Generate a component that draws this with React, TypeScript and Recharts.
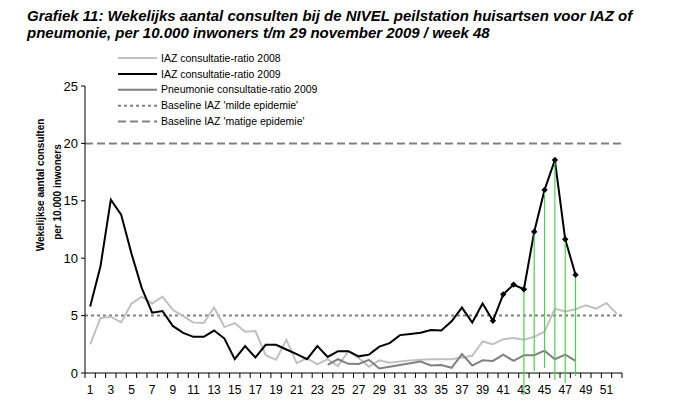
// App.tsx
// Weekly IAZ / pneumonia consultations per 10.000 inhabitants (NIVEL), 2008 vs 2009.
import { LineChart, Line, XAxis, YAxis, ReferenceLine } from "recharts";

const WEEKS = [
  1, 2, 3, 4, 5, 6, 7, 8, 9, 10, 11, 12, 13, 14, 15, 16, 17, 18, 19, 20, 21, 22, 23, 24, 25, 26,
  27, 28, 29, 30, 31, 32, 33, 34, 35, 36, 37, 38, 39, 40, 41, 42, 43, 44, 45, 46, 47, 48, 49, 50, 51, 52,
];

// IAZ consultatie-ratio 2008 (week 1-52)
const IAZ_2008 = [
  2.5, 4.8, 4.9, 4.4, 6.05, 6.65, 6.05, 6.65, 5.5, 4.95, 4.4, 4.35, 5.7, 4.0, 4.35, 3.6, 3.65,
  1.55, 1.15, 2.9, 0.85, 1.3, 0.75, 1.2, 0.6, 1.9, 1.3, 0.55, 1.1, 0.9, 1.0, 1.1, 1.15, 1.2, 1.2,
  1.2, 1.35, 1.5, 2.75, 2.5, 2.95, 3.05, 2.9, 3.15, 3.6, 5.6, 5.35, 5.55, 5.9, 5.6, 6.1, 5.15,
];

// IAZ consultatie-ratio 2009 (week 1-48)
const IAZ_2009 = [
  5.8, 9.3, 15.1, 13.8, 10.4, 7.4, 5.25, 5.4, 4.1, 3.5, 3.15, 3.15, 3.7, 3.0, 1.2, 2.35, 1.35,
  2.45, 2.45, 2.05, 1.65, 1.2, 2.35, 1.4, 1.9, 1.9, 1.45, 1.6, 2.3, 2.6, 3.3, 3.4, 3.5, 3.75, 3.7,
  4.5, 5.7, 4.4, 6.05, 4.55, 6.85, 7.7, 7.3, 12.3, 15.95, 18.55, 11.65, 8.55,
];

// Pneumonie consultatie-ratio 2009 (week 24-48)
const PNEU_START_WEEK = 24;
const PNEU_2009 = [
  0.7, 1.2, 0.8, 0.78, 1.15, 0.4, 0.55, 0.7, 0.85, 1.0, 0.65, 0.7, 0.45, 1.65, 0.65, 1.1, 1.05,
  1.6, 1.05, 1.55, 1.55, 1.95, 1.2, 1.6, 1.05,
];

const BASELINE_MILD = 5;
const BASELINE_MATIG = 20;

const Y_TICKS = [0, 5, 10, 15, 20, 25];
const X_LABELS = [1, 3, 5, 7, 9, 11, 13, 15, 17, 19, 21, 23, 25, 27, 29, 31, 33, 35, 37, 39, 41, 43, 45, 47, 49, 51];
const MARKED_WEEKS = [40, 41, 42, 43, 44, 45, 46, 47, 48];
const GREEN_WEEKS = [43, 44, 45, 46, 47, 48];

// how far (px) each green drop line runs past the x axis
const GREEN_OVERSHOOT: Record<number, number> = { 43: 22, 44: -2, 45: -5, 46: 7, 47: 10, 48: 3 };

const FONT = "'Liberation Sans', Arial, sans-serif";
const PLOT_LEFT = 85;
const PLOT_RIGHT = 622;
const PLOT_TOP = 86;
const PLOT_BOTTOM = 373;
const HALF_STEP = (PLOT_RIGHT - PLOT_LEFT) / WEEKS.length / 2;

const COLOR_2008 = "#c0c0c0";
const COLOR_2009 = "#000000";
const COLOR_PNEU = "#808080";
const COLOR_BASE = "#808080";

const rows = WEEKS.map((week, i) => ({
  week,
  y2008: IAZ_2008[i] ?? null,
  y2009: IAZ_2009[i] ?? null,
  pneu: week >= PNEU_START_WEEK ? PNEU_2009[week - PNEU_START_WEEK] ?? null : null,
}));

// tick marks sit between the weeks, labels on the odd weeks
const boundaryTicks = [0.5, ...WEEKS.map((w) => w + 0.5)];

const LEGEND = [
  { label: "IAZ consultatie-ratio 2008", color: COLOR_2008, dash: undefined },
  { label: "IAZ consultatie-ratio 2009", color: COLOR_2009, dash: undefined },
  { label: "Pneumonie consultatie-ratio 2009", color: COLOR_PNEU, dash: undefined },
  { label: "Baseline IAZ 'milde epidemie'", color: COLOR_BASE, dash: "3 3" },
  { label: "Baseline IAZ 'matige epidemie'", color: COLOR_BASE, dash: "8 4" },
];

function WeekTick(props: any) {
  const { x, y, payload } = props;
  const week = payload.value + 0.5;
  if (!X_LABELS.includes(week)) return <g />;
  return (
    <text x={x + HALF_STEP} y={y} dy={14} textAnchor="middle" fontSize={12} fill="#000" fontFamily={FONT}>
      {week}
    </text>
  );
}

function PeakDot(props: any) {
  const { cx, cy, payload } = props;
  const key = "dot-" + payload.week;
  if (!MARKED_WEEKS.includes(payload.week) || cx == null || cy == null) return <g key={key} />;
  const s = 3.2;
  return (
    <g key={key}>
      {GREEN_WEEKS.includes(payload.week) && (
        <line
          x1={cx}
          y1={cy}
          x2={cx}
          y2={PLOT_BOTTOM + GREEN_OVERSHOOT[payload.week]}
          stroke="#4cd24c"
          strokeWidth={1.2}
        />
      )}
      <path d={`M${cx},${cy - s}L${cx + s},${cy}L${cx},${cy + s}L${cx - s},${cy}Z`} fill="#000" />
    </g>
  );
}

export default function App() {
  return (
    <div style={{ position: "absolute", left: 0, top: 0, width: 700, height: 400, background: "#fff" }}>
      <LineChart
        width={700}
        height={400}
        data={rows}
        margin={{ top: PLOT_TOP, right: 700 - PLOT_RIGHT, left: 0, bottom: 0 }}
      >
        <XAxis
          dataKey="week"
          type="number"
          domain={[0.5, 52.5]}
          ticks={boundaryTicks}
          interval={0}
          height={400 - PLOT_BOTTOM}
          tickSize={5}
          axisLine={{ stroke: "#000" }}
          tickLine={{ stroke: "#000" }}
          tick={<WeekTick />}
        />
        <YAxis
          domain={[0, 25]}
          ticks={Y_TICKS}
          width={PLOT_LEFT}
          tickSize={4}
          tickMargin={3}
          axisLine={{ stroke: "#000" }}
          tickLine={{ stroke: "#000" }}
          tick={{ fontSize: 13, fill: "#000", fontFamily: FONT }}
        />
        <ReferenceLine y={BASELINE_MATIG} stroke={COLOR_BASE} strokeWidth={2} strokeDasharray="8 4" />
        <ReferenceLine y={BASELINE_MILD} stroke={COLOR_BASE} strokeWidth={2} strokeDasharray="3 3" />
        <Line dataKey="y2008" stroke={COLOR_2008} strokeWidth={2} dot={false} isAnimationActive={false} />
        <Line dataKey="pneu" stroke={COLOR_PNEU} strokeWidth={2} dot={false} isAnimationActive={false} />
        <Line
          dataKey="y2009"
          stroke={COLOR_2009}
          strokeWidth={2}
          dot={PeakDot}
          activeDot={false}
          isAnimationActive={false}
        />
      </LineChart>

      <svg
        width={700}
        height={400}
        style={{ position: "absolute", left: 0, top: 0, pointerEvents: "none" }}
        fontFamily={FONT}
      >
        <text x={27} y={21} fontSize={15} fontWeight="bold" fontStyle="italic" fill="#000">
          Grafiek 11: Wekelijks aantal consulten bij de NIVEL peilstation huisartsen voor IAZ of
        </text>
        <text x={27} y={38} fontSize={15} fontWeight="bold" fontStyle="italic" fill="#000">
          pneumonie, per 10.000 inwoners t/m 29 november 2009 / week 48
        </text>

        <text transform="translate(40,185) rotate(-90)" textAnchor="middle" fontSize={10} fontWeight="bold" fill="#000" dy="0.35em">
          Wekelijkse aantal consulten
        </text>
        <text transform="translate(57,192) rotate(-90)" textAnchor="middle" fontSize={10} fontWeight="bold" fill="#000" dy="0.35em">
          per 10.000 inwoners
        </text>

        {LEGEND.map((item, i) => {
          const y = 58 + i * 15.9;
          return (
            <g key={item.label}>
              <line x1={118} x2={157} y1={y} y2={y} stroke={item.color} strokeWidth={2} strokeDasharray={item.dash} />
              <text x={161} y={y} dy="0.35em" fontSize={10.5} fill="#000">
                {item.label}
              </text>
            </g>
          );
        })}
      </svg>
    </div>
  );
}
